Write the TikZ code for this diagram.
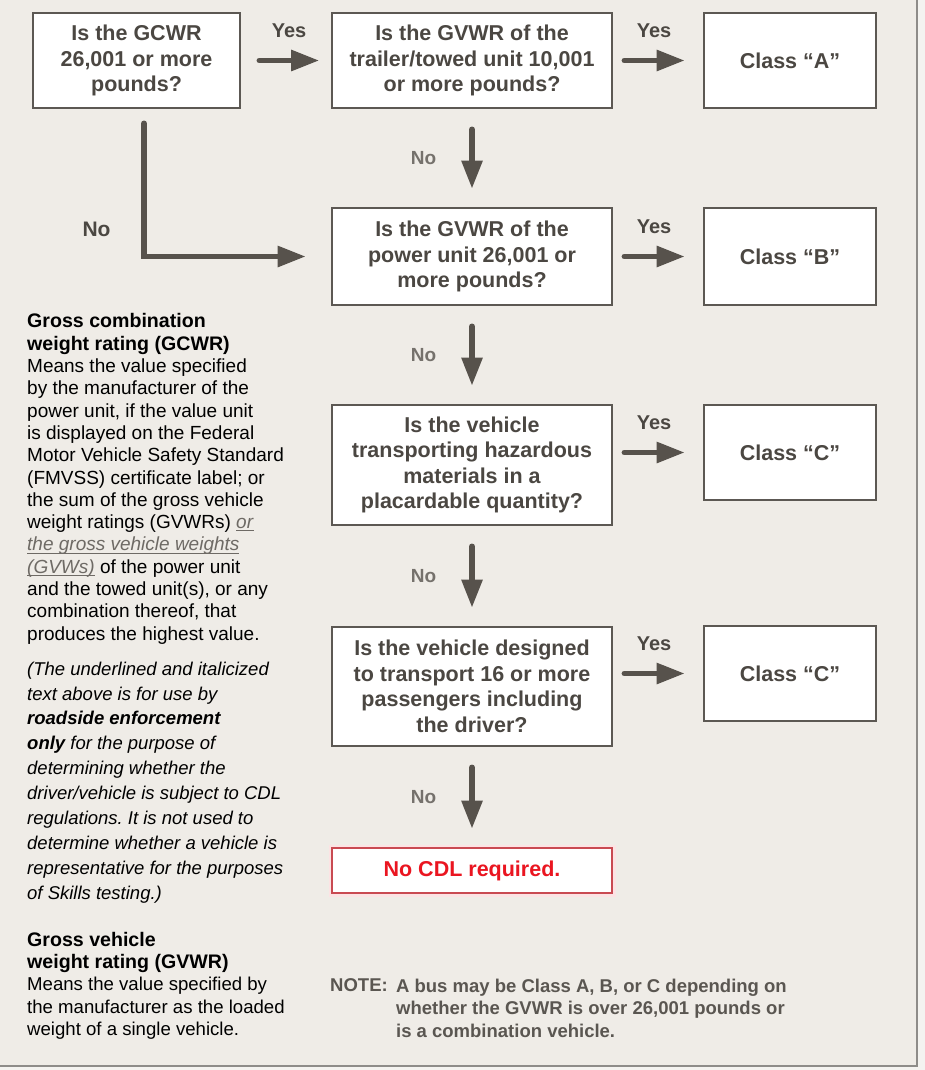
\documentclass[tikz,border=0pt]{standalone}
\usepackage{fontspec}
\setmainfont{Liberation Sans}
\usetikzlibrary{arrows.meta}
\frenchspacing

\definecolor{paper}{HTML}{EFECE7}
\definecolor{rim}{HTML}{F4F3F0}
\definecolor{framegray}{HTML}{8E8C89}
\definecolor{boxline}{HTML}{5C5853}
\definecolor{boxtext}{HTML}{4B4742}
\definecolor{flowgray}{HTML}{57524C}
\definecolor{nogray}{HTML}{75716C}
\definecolor{notegray}{HTML}{5A5651}
\definecolor{ulgray}{HTML}{6E6A65}
\definecolor{cdlred}{HTML}{EA1520}
\definecolor{cdlline}{HTML}{C94A52}

\newcommand{\ulpart}[1]{\textcolor{ulgray}{\setbox0\hbox{\textit{#1}}\rlap{\rule[-2.6pt]{\wd0}{0.9pt}}\box0}}

\tikzset{
  qbox/.style={draw=boxline, fill=white, line width=2.6pt, inner sep=0pt,
    minimum width=280pt, align=center, text=boxtext,
    font=\fontsize{21.5}{25.5}\selectfont\bfseries},
  classbox/.style={qbox, minimum width=172pt, minimum height=95pt},
  flow/.style={draw=flowgray, line width=5.5pt, line cap=round,
    -{Triangle[length=28pt,width=20pt]}, shorten <=20pt, shorten >=18pt},
  yeslbl/.style={inner sep=0pt, text=boxtext, font=\fontsize{20}{24}\selectfont\bfseries},
  nolbl/.style={inner sep=0pt, text=nogray, font=\fontsize{19}{22}\selectfont\bfseries},
  deftext/.style={anchor=north west, align=left, inner sep=0pt, text=black},
}

\begin{document}
\begin{tikzpicture}[x=1pt, y=-1pt]
  \useasboundingbox (0,0) rectangle (925,1070);
  \fill[rim] (0,0) rectangle (925,1070);
  \fill[paper] (0,0) rectangle (917,1066);
  \draw[framegray, line width=2.5pt] (917,0) -- (917,1066) -- (0,1066);

  % questions
  \node[qbox, minimum width=207pt, minimum height=95pt] (q1) at (136.5,60.5)
    {Is the GCWR\\26,001 or more\\pounds?};
  \node[qbox, minimum height=95pt] (q2) at (472,60.5)
    {Is the GVWR of the\\trailer/towed unit 10,001\\or more pounds?};
  \node[qbox, minimum height=97pt] (q3) at (472,256.5)
    {Is the GVWR of the\\power unit 26,001 or\\more pounds?};
  \node[qbox, minimum height=120pt] (q4) at (472,465)
    {Is the vehicle\\transporting hazardous\\materials in a\\placardable quantity?};
  \node[qbox, minimum height=119pt] (q5) at (472,686.5)
    {Is the vehicle designed\\to transport 16 or more\\passengers including\\the driver?};
  \node[qbox, draw=cdlline, text=cdlred, minimum height=45pt,
    preaction={draw=cdlred!12, line width=7pt}] (nocdl) at (472,870.5) {No CDL required.};

  % classes
  \node[classbox] (cA) at (790,60.5) {Class “A”};
  \node[classbox, minimum height=97pt] (cB) at (790,256.5) {Class “B”};
  \node[classbox] (cC) at (790,452.5) {Class “C”};
  \node[classbox] (cD) at (790,673.5) {Class “C”};

  % yes branches
  \draw[flow, shorten <=18pt, shorten >=11.5pt] (q1) -- (q2)
    node[yeslbl, midway, above=20pt, xshift=3pt] {Yes};
  \foreach \q/\c in {q2/cA, q3/cB, q4/cC, q5/cD}
    \draw[flow, shorten <=11pt, shorten >=18pt] (\q.east |- \c.west) -- (\c.west)
      node[yeslbl, midway, above=20pt, xshift=-4pt] {Yes};

  % no branches
  \foreach \a/\b in {q2/q3, q3/q4, q4/q5, q5/nocdl}
    \draw[flow] (\a.south) -- (\b.north) node[nolbl, midway, left=33pt] {No};
  \draw[flow, shorten <=14pt, shorten >=25pt] ([xshift=7.5pt]q1.south) |- (q3.west);
  \node[yeslbl, font=\fontsize{21}{24}\selectfont\bfseries] (nol) at (96.5,229) {No};

  % definitions
  \node[deftext, font=\fontsize{19}{22.3}\selectfont] (gcwr) at (27,313.5)
    {{\fontsize{19.6}{22.3}\selectfont\bfseries Gross combination}\\
     {\fontsize{19.6}{22.3}\selectfont\bfseries weight rating (GCWR)}\\
     Means the value specified\\
     by the manufacturer of the\\
     power unit, if the value unit\\
     is displayed on the Federal\\
     Motor Vehicle Safety Standard\\
     (FMVSS) certificate label; or\\
     the sum of the gross vehicle\\
     weight ratings (GVWRs) \ulpart{or}\\
     \ulpart{the gross vehicle weights}\\
     \ulpart{(GVWs)} of the power unit\\
     and the towed unit(s), or any\\
     combination thereof, that\\
     produces the highest value.};
  \node[deftext, font=\fontsize{18.5}{24.9}\selectfont\itshape] (usenote) at (27,661.5)
    {(The underlined and italicized\\
     text above is for use by\\
     \textbf{roadside enforcement}\\
     \textbf{only} for the purpose of\\
     determining whether the\\
     driver/vehicle is subject to CDL\\
     regulations. It is not used to\\
     determine whether a vehicle is\\
     representative for the purposes\\
     of Skills testing.)};
  \node[deftext, font=\fontsize{18.6}{22.2}\selectfont] (gvwr) at (27,932)
    {{\fontsize{19.6}{22.2}\selectfont\bfseries Gross vehicle}\\
     {\fontsize{19.6}{22.2}\selectfont\bfseries weight rating (GVWR)}\\
     Means the value specified by\\
     the manufacturer as the loaded\\
     weight of a single vehicle.};

  % note
  \node[deftext, text=notegray, font=\fontsize{18.5}{22.5}\selectfont\bfseries] (notehead)
    at (330,978.5) {NOTE:};
  \node[deftext, text=notegray, font=\fontsize{18.5}{22.5}\selectfont\bfseries] (notebody)
    at ([xshift=8pt]notehead.north east)
    {A bus may be Class A, B, or C depending on\\
     whether the GVWR is over 26,001 pounds or\\
     is a combination vehicle.};
\end{tikzpicture}
\end{document}
